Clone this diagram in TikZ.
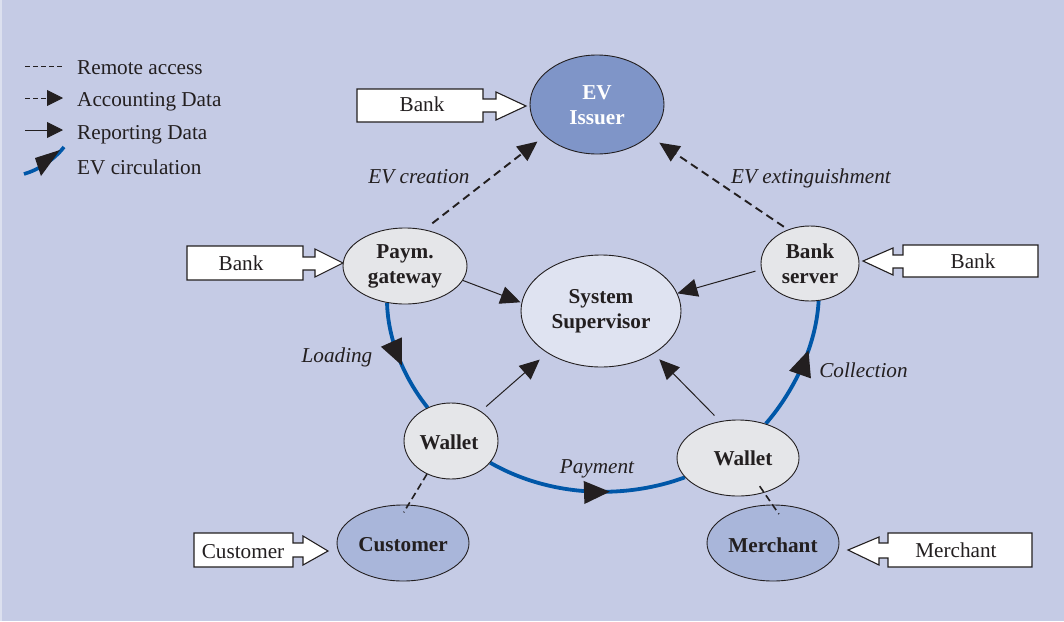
\documentclass[tikz,border=0pt]{standalone}
\usepackage{fontspec}
\setmainfont{Liberation Serif}
\usetikzlibrary{shapes.geometric,arrows.meta,decorations.markings}
\definecolor{panel}{HTML}{C5CBE5}
\definecolor{inkc}{HTML}{231F20}
\definecolor{issuer}{HTML}{7F95C8}
\definecolor{super}{HTML}{DFE3F1}
\definecolor{pale}{HTML}{E5E6E9}
\definecolor{actor}{HTML}{A9B6DA}
\definecolor{evblue}{HTML}{0057A8}
\pgfdeclarelayer{back}
\pgfsetlayers{back,main}
\newcommand\shifted[3]{\raisebox{-#2}[\height][\depth]{\hspace*{#1}#3\hspace*{-#1}}}
\tikzset{
  base/.style={font=\fontsize{21.2}{25}\selectfont,text=inkc},
  oval/.style={ellipse,draw=inkc,line width=0.9pt,inner sep=0pt,align=center,base,font=\fontsize{21.2}{25}\selectfont\bfseries},
  lab/.style={base,font=\fontsize{21.2}{25}\selectfont\itshape,inner sep=0pt,anchor=base},
  leg/.style={base,anchor=base west,inner sep=0pt},
  plain/.style={base,inner sep=0pt,anchor=base},
  blockar/.style={draw=inkc,fill=white,line width=1.1pt,line join=miter},
  head/.style={-{Triangle[length=20pt,width=18pt]}},
  report/.style={head,draw=inkc,line width=1pt},
  account/.style={head,draw=inkc,line width=1.9pt,dash pattern=on 8pt off 5pt},
  remote/.style={draw=inkc,line width=1.6pt,dash pattern=on 7pt off 4pt},
  circul/.style={draw=evblue,line width=3.8pt,postaction={decorate}},
  evtip/.style={decoration={markings,mark=at position #1 with {\arrow[inkc]{Triangle[length=26pt,width=22pt]}}}}
}
\begin{document}
\begin{tikzpicture}[x=1pt,y=-1pt]
\useasboundingbox (0,0) rectangle (1064,621);
\begin{pgfonlayer}{back}
\fill[panel!60!white] (0,0) rectangle (1064,621);
\fill[panel] (1.5,0) rectangle (1064,621);
\end{pgfonlayer}

% nodes
\node[oval,fill=issuer,text=white,minimum width=134pt,minimum height=99pt] (issuer) at (597,104.5) {\shifted{0pt}{1pt}{EV}\\\shifted{0pt}{1pt}{Issuer}};
\node[oval,fill=pale,minimum width=124pt,minimum height=76pt] (paym) at (405,266) {Paym.\\gateway};
\node[oval,fill=super,minimum width=160pt,minimum height=112pt] (sup) at (601,311) {System\\Supervisor};
\node[oval,fill=pale,minimum width=98pt,minimum height=75pt] (bsrv) at (810,263.5) {Bank\\server};
\node[oval,fill=pale,minimum width=94pt,minimum height=76pt] (wall) at (451,441) {\shifted{-2pt}{1pt}{Wallet}};
\node[oval,fill=pale,minimum width=122pt,minimum height=76pt] (walr) at (738,458) {\shifted{5pt}{0pt}{Wallet}};
\node[oval,fill=actor,minimum width=132pt,minimum height=76pt] (cust) at (403,543) {\shifted{0pt}{2pt}{Customer}};
\node[oval,fill=actor,minimum width=132pt,minimum height=76pt] (merc) at (773,543) {\shifted{0pt}{2pt}{Merchant}};

% EV circulation
\begin{pgfonlayer}{back}
\draw[circul,evtip=0.57] (paym.244) .. controls (388,340) and (404,378) .. (wall.125);
\draw[circul,evtip=0.62] (wall.-29) .. controls (552,498) and (626,499) .. (walr.200);
\draw[circul,evtip=0.63] (walr.51) .. controls (790,396) and (816,350) .. (bsrv.-77);
\end{pgfonlayer}

% reporting data
\draw[report,shorten >=1pt] (paym.-14) -- (sup.174);
\draw[report,shorten <=6pt] (bsrv.187) -- (sup.13);
\draw[report,shorten <=7pt,shorten >=10pt] (wall.45) -- (sup.218);
\draw[report,shorten <=8pt,shorten >=8pt] (walr.116) -- (sup.-39);

% accounting data
\draw[account,shorten <=10pt,shorten >=9pt] (paym.62) -- (issuer.211);
\draw[account,shorten <=5pt,shorten >=12pt] (bsrv.123) -- (issuer.-31);

% remote access
\draw[remote,shorten >=-9pt] (wall.234) -- (cust.82);
\draw[remote,shorten <=-8pt,shorten >=-11.6pt] (walr.-53.5) -- (merc.91);

% block arrows
\draw[blockar] (357,89) -- (483,89) -- (483,99) -- (496,99) -- (496,92) -- (526,106) -- (496,120) -- (496,112) -- (483,112) -- (483,122) -- (357,122) -- cycle;
\draw[blockar] (187,246) -- (303,246) -- (303,257) -- (315,257) -- (315,249) -- (343,263) -- (315,277) -- (315,270) -- (303,270) -- (303,280) -- (187,280) -- cycle;
\draw[blockar] (1038,245) -- (903,245) -- (903,255) -- (893,255) -- (893,248) -- (863,261) -- (893,275) -- (893,268) -- (903,268) -- (903,277) -- (1038,277) -- cycle;
\draw[blockar] (194,533) -- (293,533) -- (293,543) -- (303,543) -- (303,536) -- (328,551) -- (303,565) -- (303,557) -- (293,557) -- (293,567) -- (194,567) -- cycle;
\draw[blockar] (1032,533) -- (888,533) -- (888,543) -- (879,543) -- (879,537) -- (848,550) -- (879,565) -- (879,558) -- (888,558) -- (888,567) -- (1032,567) -- cycle;
\node[plain] (bankA) at (422,111) {Bank};
\node[plain] (bankB) at (241,270) {Bank};
\node[plain] (bankC) at (973,268) {Bank};
\node[plain] (custL) at (243,558) {Customer};
\node[plain] (mercL) at (956,557) {Merchant};

% flow labels
\node[lab] (lcre) at (419,183) {EV creation};
\node[lab] (lext) at (811,183) {EV extinguishment};
\node[lab] (lload) at (337,362) {Loading};
\node[lab] (lcoll) at (863.5,377) {Collection};
\node[lab] (lpay) at (597,473) {Payment};

% legend
\node[leg] (t1) at (77,74.5) {Remote access};
\node[leg] (t2) at (77,106.5) {Accounting Data};
\node[leg] (t3) at (77,139) {Reporting Data};
\node[leg] (t4) at (77,174) {EV circulation};
\coordinate (a1) at (25,66); \coordinate (b1) at (64,66);
\coordinate (a2) at (25,98); \coordinate (b2) at (63,98);
\coordinate (a3) at (25,130); \coordinate (b3) at (63,130);
\draw[draw=inkc,line width=0.9pt,dash pattern=on 5pt off 3pt] (a1) -- (b1);
\draw[draw=inkc,line width=0.9pt,dash pattern=on 5pt off 3pt,-{Triangle[length=16pt,width=16pt]}] (a2) -- (b2);
\draw[draw=inkc,line width=0.9pt,-{Triangle[length=16pt,width=16pt]}] (a3) -- (b3);
\draw[draw=evblue,line width=3.6pt] (24,174) .. controls (38,170) and (54,160) .. (64,147);
\fill[inkc] (35,158) -- (60,150) -- (41,176) -- cycle;
\end{tikzpicture}
\end{document}
